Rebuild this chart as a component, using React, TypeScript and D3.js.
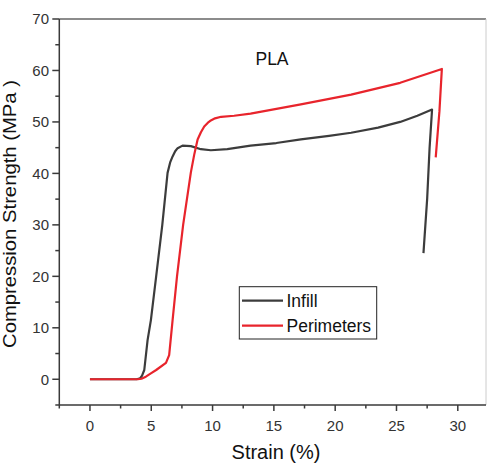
import React from "react";
import * as d3 from "d3";

const title = "PLA";
const xLabel = "Strain (%)";
const yLabel = "Compression Strength (MPa )";
const xTicks = [0, 5, 10, 15, 20, 25, 30];
const yTicks = [0, 10, 20, 30, 40, 50, 60, 70];
const xMinor = [-2.5, 2.5, 7.5, 12.5, 17.5, 22.5, 27.5];
const yMinor = [-5, 5, 15, 25, 35, 45, 55, 65];

const infillX = [0, 3.8, 4.1, 4.25, 4.43, 4.7, 4.97, 5.4, 5.9, 6.33, 6.55, 6.74, 6.95, 7.15, 7.55, 8.23, 9.05, 9.86, 11.2, 13.1, 15.2, 17.2, 19.5, 21.3, 23.5, 25.3, 26.7, 27.9, 27.7, 27.5, 27.2];
const infillY = [0, 0, 0.2, 0.7, 1.8, 7.6, 11.5, 20, 30, 40.1, 42.2, 43.3, 44.3, 44.9, 45.4, 45.3, 44.7, 44.5, 44.7, 45.4, 45.9, 46.6, 47.3, 47.9, 48.9, 50.0, 51.2, 52.4, 45, 35, 24.5];

const perimX = [0, 3.9, 4.2, 4.56, 5.0, 5.4, 6.2, 6.46, 6.74, 7.1, 7.6, 8.23, 8.5, 8.78, 9.05, 9.32, 9.6, 9.86, 10.2, 10.7, 11.76, 13.1, 17.2, 21.3, 25.3, 28.7, 28.5, 28.2];
const perimY = [0, 0, 0.1, 0.5, 1.2, 1.8, 3.2, 4.7, 11.5, 20, 30, 40.2, 43.6, 46.6, 48.0, 49.1, 49.8, 50.3, 50.7, 51.0, 51.2, 51.6, 53.4, 55.3, 57.6, 60.3, 52, 43.1];

const seriesNames = ["Infill", "Perimeters"];
const seriesColors = ["#3c3c3c", "#e8242c"];

export default function App() {
  const W = 487, H = 464;
  const x = d3.scaleLinear().domain([-2.5, 32.3]).range([59.3, 486]);
  const y = d3.scaleLinear().domain([-5, 70]).range([405, 19]);
  const line = d3.line<[number, number]>().x(d => x(d[0])).y(d => y(d[1]));
  const infill = infillX.map((v, i) => [v, infillY[i]] as [number, number]);
  const perim = perimX.map((v, i) => [v, perimY[i]] as [number, number]);
  const font = "Liberation Sans, Arial, sans-serif";
  const axisColor = "#3a3a3a";
  return (
    <svg width={W} height={H} style={{ position: "absolute", left: 0, top: 0, background: "#fff" }} fontFamily={font}>
      <rect x={0} y={0} width={W} height={H} fill="#fff" />
      {/* frame */}
      <line x1={x(-2.5)} x2={486} y1={y(70)} y2={y(70)} stroke="#666" strokeWidth={1.5} />
      <line x1={486} x2={486} y1={y(70)} y2={y(-5)} stroke="#ccc" strokeWidth={1} />
      <line x1={x(-2.5)} x2={486} y1={y(-5)} y2={y(-5)} stroke={axisColor} strokeWidth={1.5} />
      <line x1={x(-2.5)} x2={x(-2.5)} y1={y(70)} y2={y(-5)} stroke={axisColor} strokeWidth={1.5} />
      {xTicks.map(t => (
        <g key={"xt" + t}>
          <line x1={x(t)} x2={x(t)} y1={y(-5)} y2={y(-5) + 6} stroke={axisColor} strokeWidth={1.5} />
          <text x={x(t)} y={431} textAnchor="middle" fontSize={15} fill="#333">{t}</text>
        </g>
      ))}
      {xMinor.map(t => (
        <line key={"xm" + t} x1={x(t)} x2={x(t)} y1={y(-5)} y2={y(-5) + 3.5} stroke={axisColor} strokeWidth={1.5} />
      ))}
      {yTicks.map(t => (
        <g key={"yt" + t}>
          <line x1={x(-2.5) - 7} x2={x(-2.5)} y1={y(t)} y2={y(t)} stroke={axisColor} strokeWidth={1.5} />
          <text x={49} y={y(t) + 5.3} textAnchor="end" fontSize={15} fill="#333">{t}</text>
        </g>
      ))}
      {yMinor.map(t => (
        <line key={"ym" + t} x1={x(-2.5) - 4} x2={x(-2.5)} y1={y(t)} y2={y(t)} stroke={axisColor} strokeWidth={1.5} />
      ))}
      {/* curves */}
      <path d={line(infill) || ""} fill="none" stroke={seriesColors[0]} strokeWidth={2.2} strokeLinejoin="round" />
      <path d={line(perim) || ""} fill="none" stroke={seriesColors[1]} strokeWidth={2.2} strokeLinejoin="round" />
      {/* title */}
      <text x={272} y={65} textAnchor="middle" fontSize={17.5} fill="#111">{title}</text>
      {/* axis titles */}
      <text x={276} y={459} textAnchor="middle" fontSize={20} fill="#111">{xLabel}</text>
      <text transform={`translate(15.5,214) rotate(-90)`} textAnchor="middle" fontSize={19} fill="#111" textLength={268} lengthAdjust="spacingAndGlyphs">{yLabel}</text>
      {/* legend */}
      <rect x={239.3} y={286.7} width={137.4} height={52.3} fill="#fff" stroke="#222" strokeWidth={1} />
      {seriesNames.map((n, i) => (
        <g key={n}>
          <line x1={242} x2={283} y1={300.7 + i * 25} y2={300.7 + i * 25} stroke={seriesColors[i]} strokeWidth={2.2} />
          <text x={286.5} y={307 + i * 25} fontSize={17.5} fill="#111">{n}</text>
        </g>
      ))}
    </svg>
  );
}
